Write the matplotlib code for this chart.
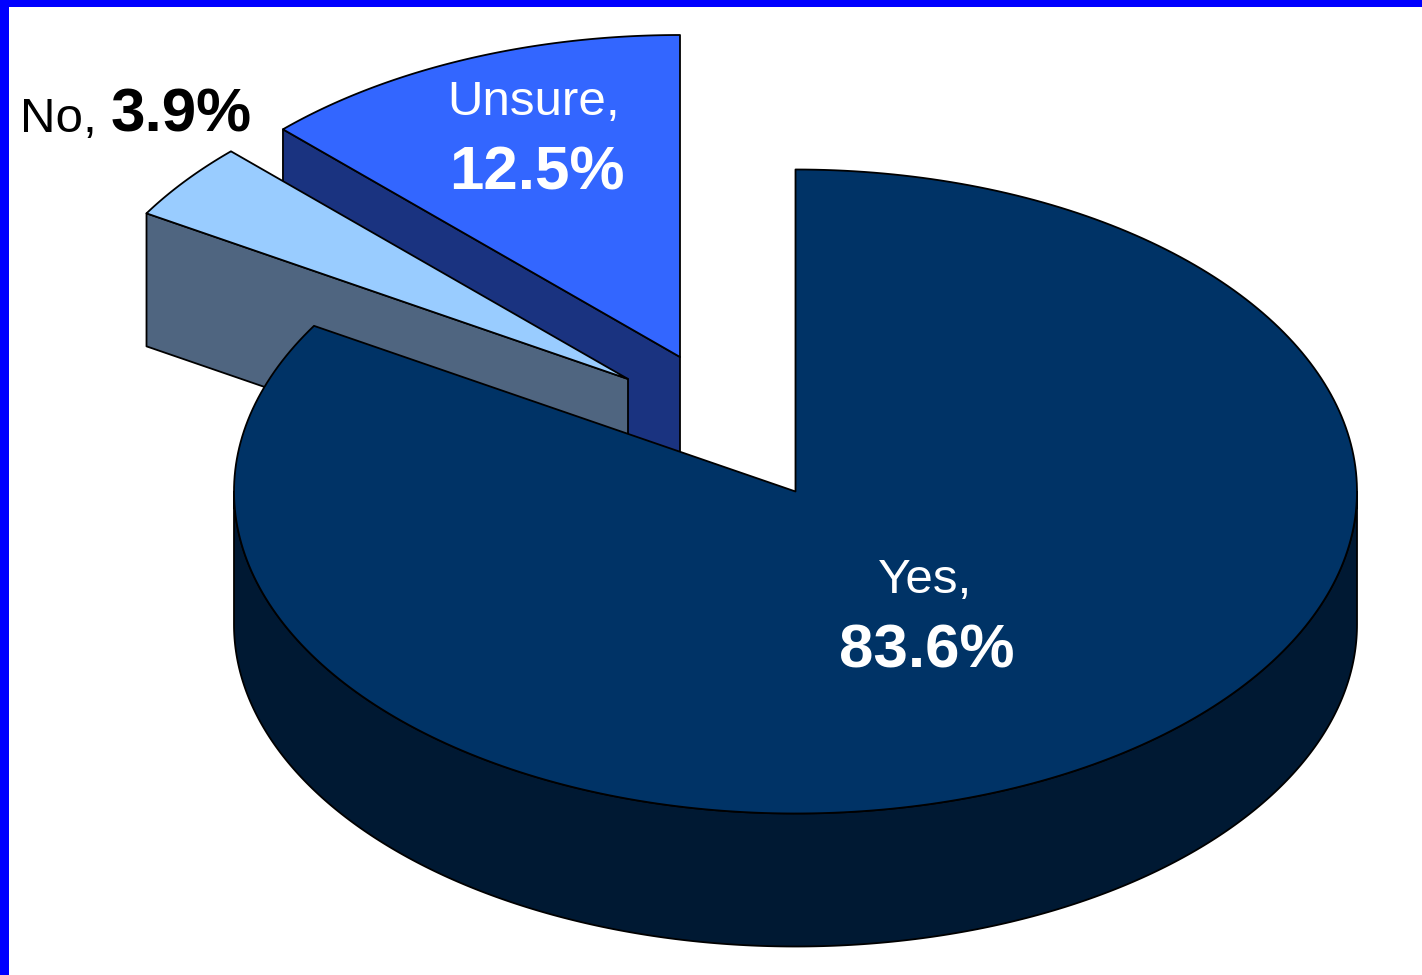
import numpy as np
import matplotlib
matplotlib.use('Agg')
import matplotlib.pyplot as plt
from matplotlib.patches import Polygon, Rectangle

plt.rcParams['font.family'] = ['Liberation Sans', 'DejaVu Sans']

labels = ['Yes', 'No', 'Unsure']
shares = [83.6, 3.9, 12.5]

top_colors = ['#003366', '#99CCFF', '#3366FF']
side_colors = ['#001933', '#4F6580', '#1A3380']

# pie centres in pixels; the two small slices are pulled out
centers = [(795.5, 491.5), (628, 379), (680, 357)]
RX = 561.5
RY = 322
DEPTH = 133
EDGE = 1.3

fig = plt.figure(figsize=(14.22, 9.75), dpi=100)
ax = fig.add_axes([0, 0, 1, 1])
ax.set_xlim(0, 1422)
ax.set_ylim(975, 0)
ax.axis('off')


def rim(center, t0, t1, drop=0):
    # points along the ellipse, angles clockwise from 12 o'clock
    t = np.radians(np.linspace(t0, t1, 300))
    x = center[0] + RX * np.sin(t)
    y = center[1] - RY * np.cos(t) + drop
    return np.column_stack([x, y])


def poly(pts, color, z):
    ax.add_patch(Polygon(pts, closed=True, facecolor=color, edgecolor='black',
                         linewidth=EDGE, joinstyle='round', zorder=z))


# slice angles from the shares
stops = np.cumsum([0] + shares) * 3.6

# back to front: Unsure, No, Yes
for i, z in [(2, 1), (1, 2), (0, 3)]:
    c = centers[i]
    t0, t1 = stops[i], stops[i + 1]
    rim_pts = rim(c, t0, t1)

    # cut face on the left side of the slice, facing the viewer
    if i != 0:
        p = rim(c, t0, t0)[0]
        poly([p, c, (c[0], c[1] + DEPTH), (p[0], p[1] + DEPTH)], side_colors[i], z)

    # outer wall, only the front half of the ellipse shows
    if i == 0:
        wall = rim(c, 90, 270)
        wall_low = rim(c, 90, 270, DEPTH)
        poly(np.vstack([wall, wall_low[::-1]]), side_colors[i], z)

    poly(np.vstack([[c], rim_pts]), top_colors[i], z + 0.5)

# blue frame along the top and left
ax.add_patch(Rectangle((0, 0), 1422, 7, facecolor='#0000FF', edgecolor='none', zorder=5))
ax.add_patch(Rectangle((0, 0), 9, 975, facecolor='#0000FF', edgecolor='none', zorder=5))

SMALL = 35.5
BIG = 44.6

ax.text(20, 132, labels[1] + ',', fontsize=SMALL, color='black', ha='left', va='baseline', zorder=6)
ax.text(111, 132, '%.1f%%' % shares[1], fontsize=BIG, fontweight='bold', color='black',
        ha='left', va='baseline', zorder=6)

ax.text(534, 115, labels[2] + ',', fontsize=SMALL, color='white', ha='center', va='baseline', zorder=6)
ax.text(537, 190, '%.1f%%' % shares[2], fontsize=BIG, fontweight='bold', color='white',
        ha='center', va='baseline', zorder=6)

ax.text(925, 593, labels[0] + ',', fontsize=SMALL, color='white', ha='center', va='baseline', zorder=6)
ax.text(927, 668, '%.1f%%' % shares[0], fontsize=BIG, fontweight='bold', color='white',
        ha='center', va='baseline', zorder=6)

fig.savefig('out.png', dpi=100)
